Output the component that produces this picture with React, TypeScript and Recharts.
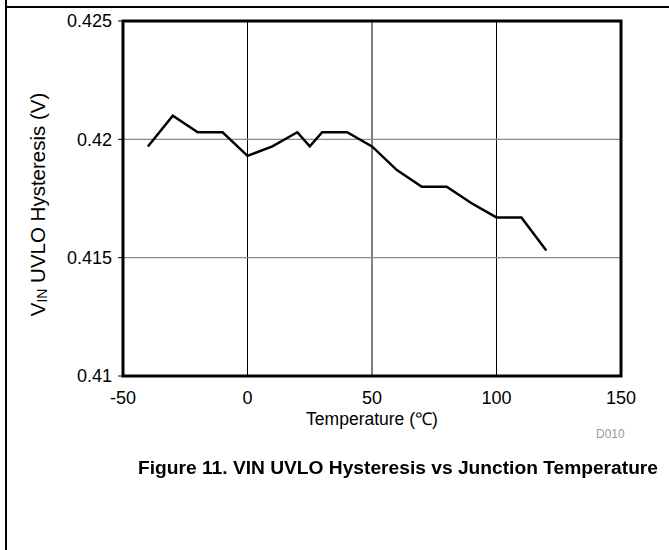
import React from 'react';
import { LineChart, Line, XAxis, YAxis, CartesianGrid, ReferenceArea } from 'recharts';

const temperatures = [-40, -30, -20, -10, 0, 10, 20, 25, 30, 40, 50, 60, 70, 80, 90, 100, 110, 120];
const hysteresis = [0.4197, 0.421, 0.4203, 0.4203, 0.4193, 0.4197, 0.4203, 0.4197, 0.4203, 0.4203, 0.4197, 0.4187, 0.418, 0.418, 0.4173, 0.4167, 0.4167, 0.4153];
const xTicks = [-50, 0, 50, 100, 150];
const yTicks = [0.41, 0.415, 0.42, 0.425];

const FONT = '"Liberation Sans", Arial, sans-serif';

const YLabel = (props: any) => {
  const { viewBox } = props;
  const cx = 37;
  const cy = viewBox.y + viewBox.height / 2 + 6;
  return (
    <text
      x={cx}
      y={cy}
      transform={`rotate(-90, ${cx}, ${cy})`}
      textAnchor="middle"
      dominantBaseline="central"
      fontFamily={FONT}
      fontSize={20.5}
      fill="#000"
    >
      V<tspan fontSize={14} dy={5}>IN</tspan>
      <tspan dy={-5}> UVLO Hysteresis (V)</tspan>
    </text>
  );
};

const App: React.FC = () => {
  const data = temperatures.map((t, i) => ({ t, v: hysteresis[i] }));

  return (
    <div style={{ position: 'fixed', left: 0, top: 0, width: 669, height: 550, background: '#fff', fontFamily: FONT }}>
      <div style={{ position: 'absolute', left: 5, top: 0, width: 2, height: 550, background: '#000' }} />
      <div style={{ position: 'absolute', left: 5, top: 6, width: 664, height: 2, background: '#000' }} />

      <LineChart
        width={669}
        height={550}
        data={data}
        margin={{ top: 21, right: 48, bottom: 114, left: 0 }}
        style={{ position: 'absolute', left: 0, top: 0 }}
      >
        <CartesianGrid horizontal={false} stroke="#000" strokeWidth={1} />
        <CartesianGrid vertical={false} stroke="#8a8a8a" strokeWidth={1.2} />
        <XAxis
          dataKey="t"
          type="number"
          domain={[-50, 150]}
          ticks={xTicks}
          axisLine={false}
          tickLine={false}
          tickMargin={9}
          height={60}
          tick={{ fontFamily: FONT, fontSize: 18, fill: '#000' }}
        />
        <YAxis
          type="number"
          domain={[0.41, 0.425]}
          ticks={yTicks}
          width={123}
          axisLine={false}
          tickLine={{ stroke: '#000' }}
          tickSize={5}
          tickMargin={6}
          tick={{ fontFamily: FONT, fontSize: 18, fill: '#000' }}
          label={<YLabel />}
        />
        <ReferenceArea x1={-50} x2={150} y1={0.41} y2={0.425} fill="none" stroke="#000" strokeWidth={3} ifOverflow="visible" />
        <Line
          type="linear"
          dataKey="v"
          stroke="#000"
          strokeWidth={2.5}
          dot={false}
          isAnimationActive={false}
        />
      </LineChart>

      <div style={{ position: 'absolute', left: 222, width: 300, top: 406, textAlign: 'center', fontSize: 17.5, color: '#000' }}>
        Temperature (&#8451;)
      </div>
      <div style={{ position: 'absolute', left: 596, top: 427, fontSize: 12, color: '#999' }}>D010</div>
      <div style={{ position: 'absolute', left: 48, width: 700, top: 457, textAlign: 'center', fontSize: 19.2, fontWeight: 'bold', color: '#000' }}>
        Figure 11. VIN UVLO Hysteresis vs Junction Temperature
      </div>
    </div>
  );
};

export default App;
